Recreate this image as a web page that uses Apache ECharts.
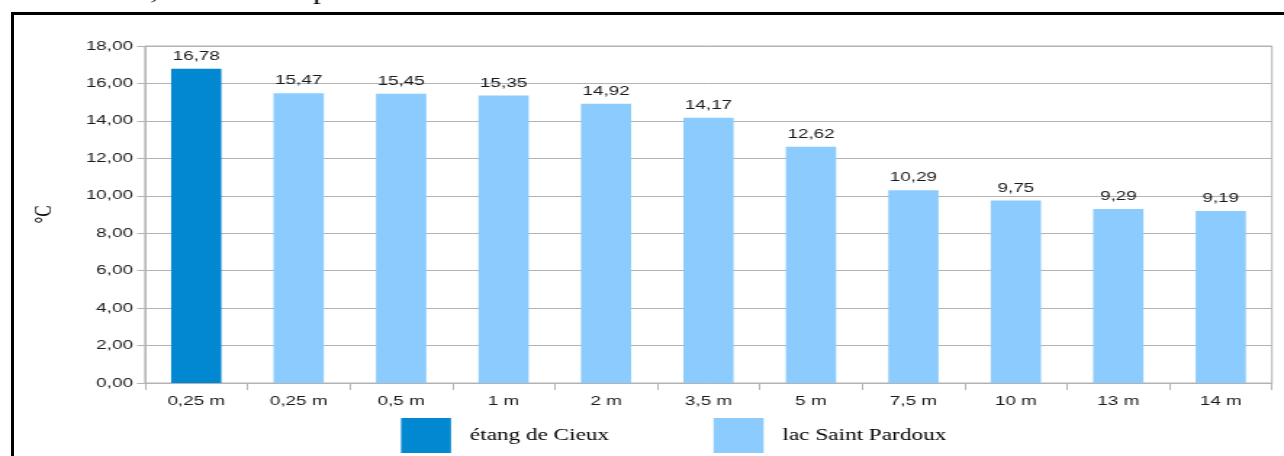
<!DOCTYPE html>
<html>
<head>
<meta charset="utf-8">
<script src="https://cdn.jsdelivr.net/npm/echarts@6/dist/echarts.min.js"></script>
<style>
html,body{margin:0;padding:0;background:#fff;overflow:hidden;}
#wrap{width:1284px;height:456px;overflow:hidden;position:relative;}
#chart{height:456px;transform-origin:0 0;position:absolute;left:0;top:0;}
.fr{position:absolute;background:#000;pointer-events:none;}
#frTop{left:11px;top:12px;width:1273px;height:3px;}
#frLeft{left:11px;top:12px;width:3px;height:444px;}
</style>
</head>
<body>
<div id="wrap"><div id="chart"></div><div class="fr" id="frTop"></div><div class="fr" id="frLeft"></div></div>
<script>
const categories = ['0,25 m','0,25 m','0,5 m','1 m','2 m','3,5 m','5 m','7,5 m','10 m','13 m','14 m'];
const etangValues = [16.78, null, null, null, null, null, null, null, null, null, null];
const lacValues = [null, 15.47, 15.45, 15.35, 14.92, 14.17, 12.62, 10.29, 9.75, 9.29, 9.19];
const seriesNames = ['étang de Cieux', 'lac Saint Pardoux'];
const yTicks = [0, 2, 4, 6, 8, 10, 12, 14, 16, 18];
const axisName = '°C';
const headerText = 'à 0,5 mètres de profondeur.';

// the reference picture is horizontally stretched; draw narrower and stretch
const SX = 1.45;
const W = Math.floor(1284 / SX);
const el = document.getElementById('chart');
el.style.width = W + 'px';
el.style.transform = 'scaleX(' + (1284 / W) + ')';
const S = 1284 / W;

function fmt(v) {
  return v.toFixed(2).replace('.', ',');
}

const chart = echarts.init(el, null, {renderer: 'canvas', width: W, height: 456});
const gridColor = '#b3b3b3';
const labelFont = {fontFamily: 'Liberation Sans', fontSize: 13, color: '#1a1a1a'};

chart.setOption({
  animation: false,
  backgroundColor: '#ffffff',
  graphic: [
    {
      type: 'text',
      x: 112 / S, y: -7,
      style: {text: headerText, font: '22px "Liberation Serif"', fill: '#000', textVerticalAlign: 'middle'},
      silent: true
    }
  ],
  grid: {left: 145 / S, right: 12 / S, top: 46, bottom: 73, show: true, borderColor: gridColor, borderWidth: 1},
  legend: {
    left: 401 / S - 5, top: 418 - 5,
    itemWidth: 50 / S, itemHeight: 35,
    itemGap: 72,
    icon: 'rect',
    textStyle: {fontFamily: 'Liberation Serif', fontSize: 16, color: '#000', padding: [0, 0, 0, 8]},
    data: seriesNames
  },
  xAxis: {
    type: 'category',
    data: categories,
    axisLine: {lineStyle: {color: gridColor}},
    axisTick: {show: true, length: 7, interval: 0, lineStyle: {color: gridColor}},
    axisLabel: Object.assign({margin: 12, interval: 0}, labelFont)
  },
  yAxis: {
    type: 'value',
    min: yTicks[0], max: yTicks[yTicks.length - 1], interval: 2,
    name: axisName,
    nameLocation: 'middle',
    nameGap: 100 / S - 8,
    nameTextStyle: {fontFamily: 'Liberation Serif', fontSize: 17, color: '#000'},
    axisLine: {show: true, lineStyle: {color: gridColor}},
    axisTick: {show: true, length: 8 / S, lineStyle: {color: gridColor}},
    splitLine: {lineStyle: {color: gridColor}},
    axisLabel: Object.assign({margin: 12 / S, formatter: fmt}, labelFont)
  },
  series: [
    {
      name: seriesNames[0], type: 'bar', stack: 's', data: etangValues, barWidth: '49%',
      itemStyle: {color: '#0288d1'},
      label: Object.assign({show: true, position: 'top', distance: 6, formatter: p => fmt(p.value)}, labelFont)
    },
    {
      name: seriesNames[1], type: 'bar', stack: 's', data: lacValues, barWidth: '49%',
      itemStyle: {color: '#8bcbfd'},
      label: Object.assign({show: true, position: 'top', distance: 6, formatter: p => fmt(p.value)}, labelFont)
    }
  ]
});
</script>
</body>
</html>
